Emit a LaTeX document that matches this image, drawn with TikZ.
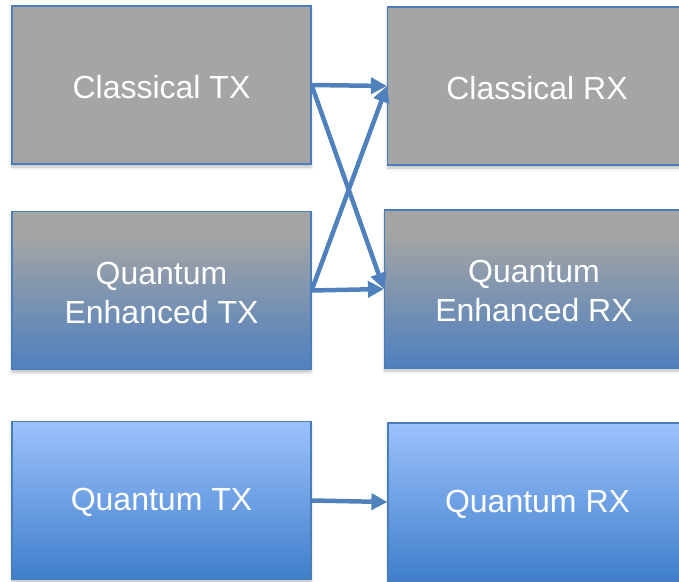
\documentclass[tikz,border=0pt]{standalone}
\usepackage{fontspec}
\setmainfont{Liberation Sans}
\usetikzlibrary{arrows.meta,shadows.blur}

\definecolor{edgeblue}{HTML}{4A7EBB}
\definecolor{arrowblue}{HTML}{4F81BD}
\definecolor{boxgray}{HTML}{A5A5A5}
\definecolor{qebottom}{HTML}{4F80BF}
\definecolor{qtop}{HTML}{9CC2FD}
\definecolor{qbottom}{HTML}{3F7ECB}

% gray that fades into blue towards the bottom; the node spans 25bp..75bp
\pgfdeclareverticalshading{grayblue}{100bp}{%
  color(0bp)=(qebottom); color(25bp)=(qebottom);
  color(68bp)=(boxgray); color(100bp)=(boxgray)}

\tikzset{
  block/.style={
    draw=edgeblue, line width=1.2pt,
    minimum width=299pt, minimum height=158pt,
    text=white, align=center,
    font=\fontsize{32}{39}\selectfont,
    blur shadow={shadow xshift=0pt, shadow yshift=-3pt,
                 shadow blur radius=3pt, shadow opacity=25}},
  classical/.style={block, fill=boxgray},
  enhanced/.style={block, shading=grayblue},
  quantum/.style={block, top color=qtop, bottom color=qbottom},
  label/.style={text=white, align=center,
    font=\fontsize{32}{39}\selectfont},
  link/.style={draw=arrowblue, line width=4.5pt,
    -{Triangle[length=16pt,width=16pt]}}
}

\begin{document}
\begin{tikzpicture}[x=1pt,y=-1pt]
  \useasboundingbox (0,0) rectangle (679,581);

  % transmitters
  \node[classical] (ctx)  at (161.5,85)    {};
  \node[enhanced]  (qetx) at (161.5,290.5) {};
  \node[quantum]   (qtx)  at (161.5,500.5) {};

  % receivers (cut off by the right margin)
  \node[classical] (crx)  at (537,86)    {};
  \node[enhanced]  (qerx) at (534,289)   {};
  \node[quantum]   (qrx)  at (537.5,502) {};

  % box captions
  \node[label] (ctxl)  at ([yshift=-2pt]ctx.center)  {Classical TX};
  \node[label] (qetxl) at ([yshift=-2pt]qetx.center) {Quantum\\Enhanced TX};
  \node[label] (qtxl)  at ([yshift=-2pt]qtx.center)  {Quantum TX};
  \node[label] (crxl)  at ([yshift=-2pt]crx.center)  {Classical RX};
  \node[label] (qerxl) at ([yshift=-2pt]qerx.center) {Quantum\\Enhanced RX};
  \node[label] (qrxl)  at ([yshift=-2pt]qrx.center)  {Quantum RX};

  % links
  \draw[link] (ctx.east)  -- (crx.west);
  \draw[link] (ctx.east)  -- (qerx.west);
  \draw[link] (qetx.east) -- (crx.west);
  \draw[link] (qetx.east) -- (qerx.west);
  \draw[link] (qtx.east)  -- (qrx.west);
\end{tikzpicture}
\end{document}
